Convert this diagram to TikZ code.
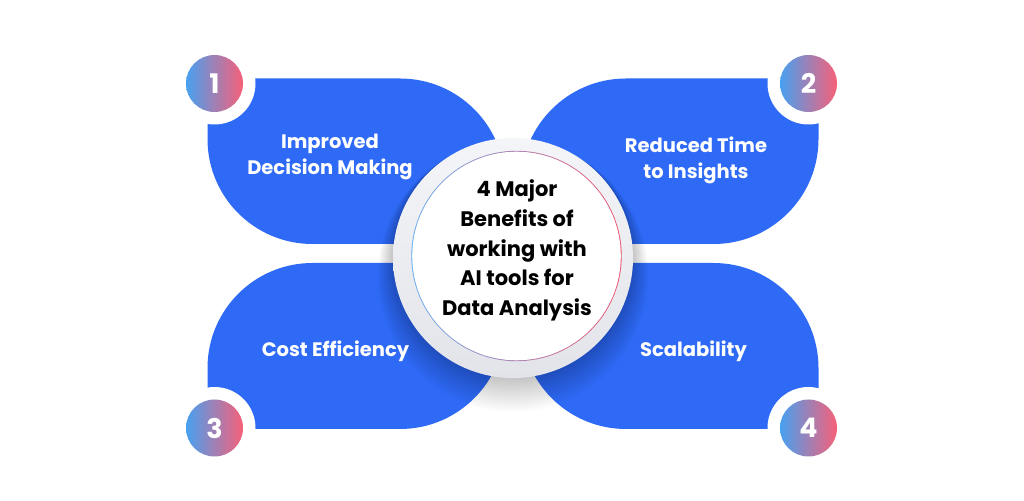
\documentclass[tikz,border=0pt]{standalone}
\usepackage{fontspec}
\setmainfont{Poppins}
\definecolor{blobblue}{RGB}{46,106,246}
\definecolor{gradA}{RGB}{72,160,240}
\definecolor{gradB}{RGB}{226,86,216}
\definecolor{gradC}{RGB}{247,96,120}
\definecolor{ringA}{RGB}{244,245,248}
\definecolor{ringB}{RGB}{226,228,234}
\definecolor{lineA}{RGB}{100,170,240}
\definecolor{lineB}{RGB}{200,90,215}
\definecolor{lineC}{RGB}{240,80,110}
\tikzset{
  blob/.style={fill=blobblue},
  cutout/.style={fill=white},
  badge/.style={circle, minimum size=57pt, inner sep=0pt, left color=gradA, middle color=gradB, right color=gradC, text=white, font=\bfseries\fontsize{27}{27}\selectfont},
  sidetext/.style={align=center, text=white, font=\bfseries\fontsize{19.5}{26.5}\selectfont, inner sep=0pt},
  midtext/.style={align=center, text=black, font=\bfseries\fontsize{21}{29.8}\selectfont, inner sep=0pt}
}
\begin{document}
\begin{tikzpicture}[x=1pt,y=1pt]
\useasboundingbox (0,0) rectangle (1024,500);
\fill[white] (0,0) rectangle (1024,500);
% blobs
\fill[blob] (207.5,421.5) -- (400,421.5) arc[start angle=90,end angle=0,radius=105] -- (505,256) -- (312.5,256) arc[start angle=270,end angle=180,radius=105] -- cycle;
\fill[blob] (818.5,421.5) -- (626,421.5) arc[start angle=90,end angle=180,radius=105] -- (521,256) -- (713.5,256) arc[start angle=270,end angle=360,radius=105] -- cycle;
\fill[blob] (207.5,71) -- (207.5,132) arc[start angle=180,end angle=90,radius=105] -- (505,237) -- (505,176) arc[start angle=0,end angle=-90,radius=105] -- cycle;
\fill[blob] (818.5,71) -- (818.5,132) arc[start angle=0,end angle=90,radius=105] -- (521,237) -- (521,176) arc[start angle=180,end angle=270,radius=105] -- cycle;
% badge cutouts
\fill[cutout] (214.5,416.5) circle (41);
\fill[cutout] (808.5,416.5) circle (41);
\fill[cutout] (214.5,72) circle (41);
\fill[cutout] (808.5,72) circle (41);
% shadow of the central circle
\foreach \i in {1,...,14} {
  \fill[black,opacity=0.016] (513,{242-1.3*\i}) circle ({120+1.1*\i});
}
% central circle
\shade[top color=ringA, bottom color=ringB] (513,242) circle (120);
\shade[left color=lineA, middle color=lineB, right color=lineC] (516.5,244) circle (105.2);
\fill[white] (516.5,244) circle (104.3);
% badges
\node[badge] (b1) at (214.5,416.5) {1};
\node[badge] (b2) at (808.5,416.5) {2};
\node[badge] (b3) at (214.5,72) {3};
\node[badge] (b4) at (808.5,72) {4};
% texts
\node[sidetext, anchor=base] (t1) at (330,325) {Improved\\Decision Making};
\node[sidetext, anchor=base] (t2) at (696,321) {Reduced Time\\to Insights};
\node[sidetext, anchor=base] (t3) at (335.5,143.3) {Cost Efficiency};
\node[sidetext, anchor=base] (t4) at (693.5,143.3) {Scalability};
\node[midtext, anchor=base] (mid) at (517,184.3) {4 Major\\Benefits of\\working with\\AI tools for\\Data Analysis};
\end{tikzpicture}
\end{document}
